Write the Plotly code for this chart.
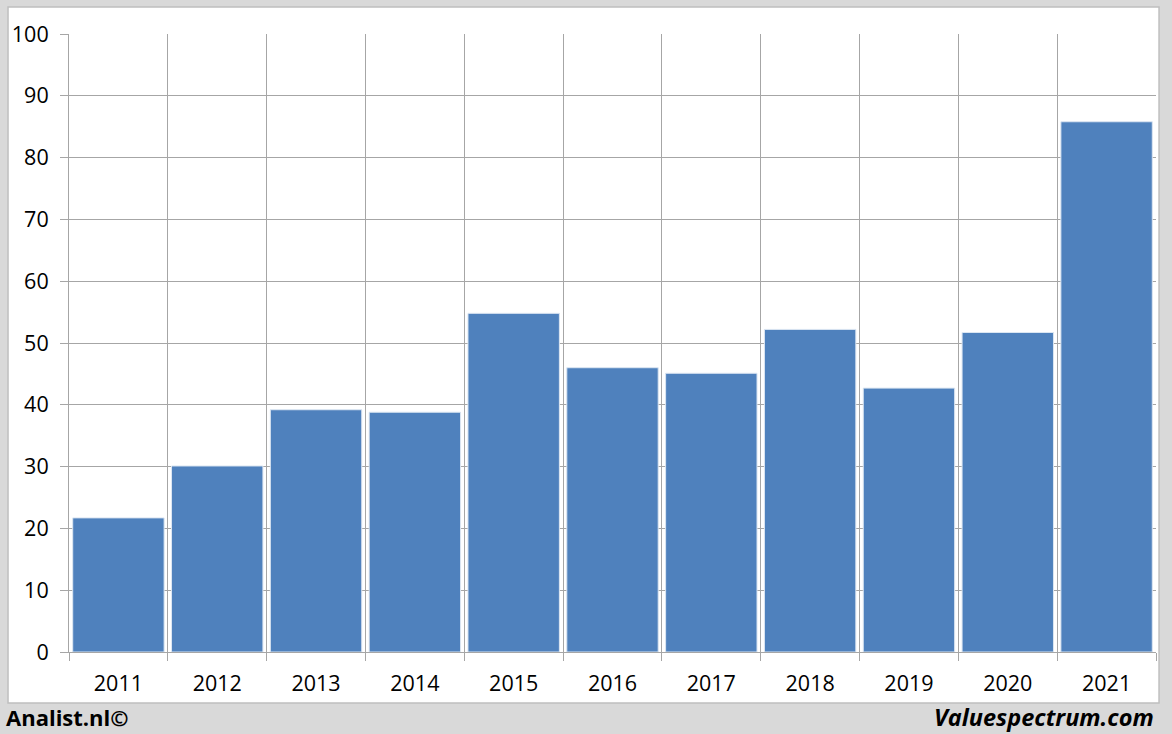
import plotly.graph_objects as go

years = ["2011", "2012", "2013", "2014", "2015", "2016", "2017", "2018", "2019", "2020", "2021"]
values = [21.7, 30.1, 39.2, 38.8, 54.8, 46.0, 45.1, 52.2, 42.7, 51.7, 85.8]
y_ticks = [0, 10, 20, 30, 40, 50, 60, 70, 80, 90, 100]

grid = "#a6a6a6"
font_family = "Open Sans, Noto Sans, sans-serif"

fig = go.Figure()
fig.add_trace(go.Bar(
    x=years, y=values,
    marker=dict(color="#4f81bd", line=dict(color="#dce6f2", width=1)),
    hoverinfo="x+y",
))

fig.update_layout(
    width=1172, height=734,
    margin=dict(l=69, r=16, t=34, b=82),
    paper_bgcolor="#d9d9d9",
    plot_bgcolor="white",
    bargap=0.075,
    showlegend=False,
    font=dict(family=font_family, size=21, color="black"),
    shapes=[dict(type="rect", xref="paper", yref="paper",
                 x0=-0.0561, x1=1.0028, y0=-0.0825, y1=1.0437,
                 fillcolor="white", line=dict(color="#bfbfbf", width=1.5),
                 layer="below")],
    annotations=[
        dict(text="<b>Analist.nl©</b>", xref="paper", yref="paper",
             x=-0.0598, y=-0.1050, xanchor="left", yanchor="middle",
             showarrow=False, font=dict(size=22, family=font_family)),
        dict(text="<b><i>Valuespectrum.com</i></b>", xref="paper", yref="paper",
             x=1.0, y=-0.1050, xanchor="right", yanchor="middle",
             showarrow=False, font=dict(size=23.5, family=font_family)),
    ],
)
fig.update_xaxes(
    type="category", tickson="boundaries",
    showgrid=True, gridcolor=grid, gridwidth=1,
    ticks="outside", ticklen=8, tickcolor=grid,
    showline=True, linecolor=grid,
    ticklabelstandoff=12,
    tickfont=dict(size=21.5),
)
fig.update_yaxes(
    range=[0, 100], tickvals=y_ticks,
    showgrid=True, gridcolor=grid, gridwidth=1,
    ticks="outside", ticklen=8, tickcolor=grid,
    showline=True, linecolor=grid, zeroline=False,
    ticklabelstandoff=7,
    tickfont=dict(size=21.5),
)
fig.write_html("out.html", config={"displayModeBar": False},
               post_script="document.body.style.margin='0';document.body.style.overflow='hidden';")
